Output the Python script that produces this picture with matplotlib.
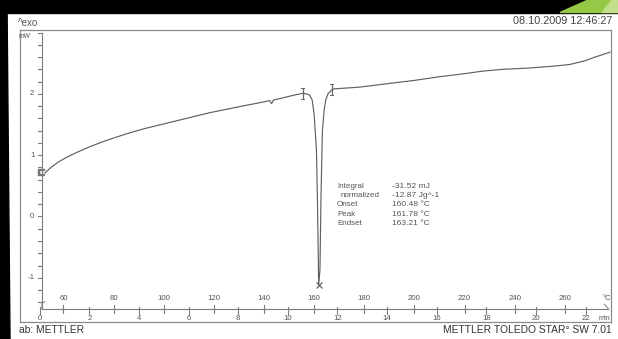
import matplotlib
matplotlib.use("Agg")
import matplotlib.pyplot as plt
import numpy as np
from matplotlib.patches import Polygon, Rectangle

plt.rcParams['font.family'] = ['Liberation Sans', 'DejaVu Sans']

# ---- DSC measurement: sample temperature (°C) and heat flow (mW) ----
temperature = [52.6, 55.0, 58.0, 61.0, 65.0, 70.0, 75.0, 80.0, 86.0, 92.0,
               100.0, 108.0, 118.0, 130.0, 140.0, 142.2, 143.0, 143.8, 147.0,
               152.0, 155.5, 157.0, 158.2, 159.2, 160.0, 160.5, 160.9, 161.3,
               161.6, 161.78, 162.3, 162.7, 163.1, 163.3, 164.0, 164.6, 165.6,
               167.5, 178.0, 190.0, 200.0, 210.0, 220.0, 227.0, 235.0, 245.0,
               255.0, 262.0, 268.0, 272.0, 278.0]
heat_flow = [0.71, 0.80, 0.89, 0.96, 1.04, 1.13, 1.21, 1.28, 1.36, 1.43,
             1.51, 1.59, 1.69, 1.79, 1.87, 1.89, 1.84, 1.90, 1.93,
             1.98, 2.01, 2.00, 1.98, 1.90, 1.66, 1.33, 1.08, 0.27,
             -0.55, -1.12, -0.87, 0.27, 1.08, 1.41, 1.74, 1.90, 2.01,
             2.08, 2.11, 2.17, 2.22, 2.28, 2.33, 2.37, 2.40, 2.42,
             2.45, 2.48, 2.54, 2.60, 2.68]

# integration limits of the melting peak (°C)
limit_temps = [155.5, 167.1]

# evaluation results
result_labels = ["Integral", "normalized", "Onset", "Peak", "Endset"]
result_values = ["-31.52 mJ", "-12.87 Jg^-1", "160.48 °C", "161.78 °C", "163.21 °C"]
peak_temp = 161.78
peak_flow = -1.12

# axis scales
temp_ticks = [60, 80, 100, 120, 140, 160, 180, 200, 220, 240, 260]
time_ticks = [0, 2, 4, 6, 8, 10, 12, 14, 16, 18, 20, 22]
flow_labels = [-1, 0, 1, 2]

timestamp = "08.10.2009 12:46:27"
footer_left = "ab: METTLER"
footer_right = "METTLER TOLEDO STAR\u00b0 SW 7.01"


def time_to_temp(t):
    # heating programme: roughly 10 K/min starting near 50 °C
    return 50.5 + 9.9 * t


W, H = 618, 339
fig = plt.figure(figsize=(W / 100, H / 100), dpi=100)
fig.patch.set_facecolor('white')


def fx(x):
    return x / W


def fy(y):
    return 1 - y / H


TXT = '#555555'
LINE = '#7d7d7d'

ax = fig.add_axes([fx(20), fy(322), (611 - 20) / W, (322 - 30) / H])
ax.set_xlim(42.65, 278.4)
ax.set_ylim(-1.721, 3.042)
ax.set_xticks([])
ax.set_yticks([])
for s in ax.spines.values():
    s.set_color('#8a8a8a')
    s.set_linewidth(0.9)

# curve
ax.plot(temperature, heat_flow, color='#606060', lw=0.85, solid_joinstyle='round')

# peak marker and integration limits
ax.plot([peak_temp], [peak_flow], marker='x', ms=4, mew=0.8, color='#555555')
for tl in limit_temps:
    v = np.interp(tl, temperature, heat_flow)
    ax.plot([tl, tl], [v - 0.09, v + 0.09], color='#666666', lw=0.9)
    ax.plot([tl - 0.6, tl + 0.6], [v + 0.09, v + 0.09], color='#666666', lw=0.7)
    ax.plot([tl - 0.6, tl + 0.6], [v - 0.09, v - 0.09], color='#666666', lw=0.7)
ax.plot([temperature[0] - 1.6], [heat_flow[0] + 0.01], marker=r'$\sqsubset$',
        ms=4.5, color='#777777')

# y axis with minor ticks every 0.2 mW
x_axis_y = -1.509
ax.plot([51.4, 51.4], [x_axis_y, 2.99], color=LINE, lw=0.8)
for v in np.arange(-1.4, 3.01, 0.2):
    ax.plot([49.8, 51.4], [v, v], color=LINE, lw=0.8)
for v in flow_labels:
    ax.text(48.4, v, str(v), ha='right', va='center', fontsize=5.6, color=TXT)
ax.text(44.6, 2.93, "mW", ha='center', va='center', fontsize=4.8, color=TXT)

# x axis: temperature above, time below
ax.plot([51.4, 276.8], [x_axis_y, x_axis_y], color=LINE, lw=0.8)
ax.plot([51.4, 51.4, 52.6], [x_axis_y, x_axis_y + 0.1, x_axis_y + 0.12],
        color=LINE, lw=0.7)
for t in temp_ticks:
    ax.plot([t, t], [x_axis_y + 0.06, x_axis_y - 0.06], color=LINE, lw=0.8)
    ax.text(t, -1.33, str(t), ha='center', va='center', fontsize=5.6, color=TXT)
for tm in time_ticks:
    tt = time_to_temp(tm)
    ax.plot([tt, tt], [x_axis_y + 0.04, x_axis_y - 0.08], color=LINE, lw=0.8)
    ax.text(tt, -1.66, str(tm), ha='center', va='center', fontsize=5.6, color=TXT)
ax.text(276.6, -1.33, "\u00b0C", ha='center', va='center', fontsize=5.6, color=TXT)
ax.text(275.6, -1.66, "min", ha='center', va='center', fontsize=5.2, color=TXT)
ax.plot([275.8, 277.6], [-1.43, -1.52], color=LINE, lw=0.7)

# evaluation table
rows_y = [186, 195.7, 205, 214.3, 223.5]
for lab, val, yy in zip(result_labels, result_values, rows_y):
    xl = 341 if lab == "normalized" else 337
    fig.text(fx(xl), fy(yy), lab, ha='left', va='center', fontsize=5.8, color=TXT)
    fig.text(fx(392), fy(yy), val, ha='left', va='center', fontsize=6.1, color=TXT)

# header and footer
fig.text(fx(18), fy(23), "^exo", ha='left', va='center', fontsize=7, color=TXT)
fig.text(fx(612), fy(21), timestamp, ha='right', va='center', fontsize=7.8, color='#444444')
fig.text(fx(19), fy(330), footer_left, ha='left', va='center', fontsize=7.4, color='#333333')
fig.text(fx(612), fy(330), footer_right, ha='right', va='center', fontsize=7.4, color='#333333')

# scan borders
fig.patches.append(Rectangle((0, fy(12.5)), 1, 1 - fy(12.5), transform=fig.transFigure,
                             color='black', zorder=10))
fig.patches.append(Polygon([(0, 1), (fx(7), 1), (fx(10), 0), (0, 0)],
                           closed=True, transform=fig.transFigure, color='black', zorder=10))
fig.patches.append(Polygon([(fx(560), fy(12.5)), (fx(588), 1), (1, 1), (1, fy(12.5))],
                           closed=True, transform=fig.transFigure, color='#94c846', zorder=11))
fig.patches.append(Polygon([(fx(602), fy(12.5)), (fx(612), 1), (1, 1), (1, fy(12.5))],
                           closed=True, transform=fig.transFigure, color='#c3df8c', zorder=12))

fig.savefig("out.png", dpi=100)
